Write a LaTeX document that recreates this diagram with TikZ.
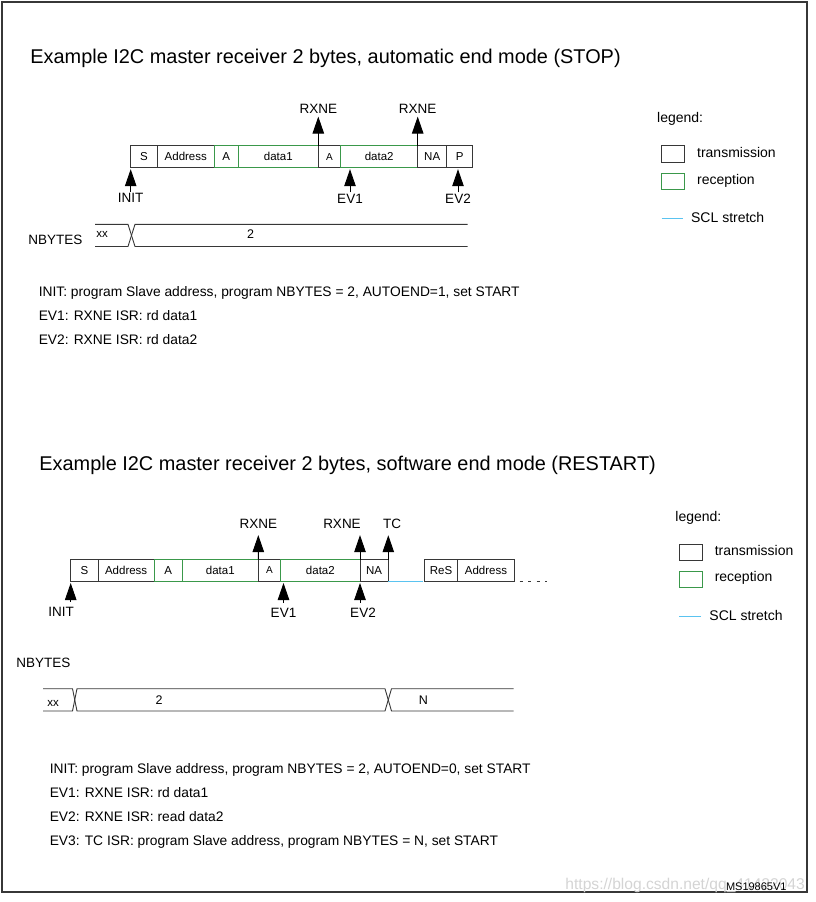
\documentclass[tikz,border=0pt]{standalone}
\usepackage{fontspec}
\setmainfont{Liberation Sans}
\usepackage{xcolor}
\usetikzlibrary{arrows.meta,positioning}
\definecolor{rxgreen}{RGB}{58,152,74}
\definecolor{sclblue}{RGB}{90,195,240}
\definecolor{linegray}{RGB}{55,55,55}
\definecolor{wmgray}{RGB}{212,212,212}
\tikzstyle{sendbox} = [rectangle, draw=linegray, minimum height=22pt, inner sep=0pt, outer sep=0pt, font=\fontsize{11.5}{13}\selectfont]
\tikzstyle{recvbox} = [sendbox, draw=rxgreen]
\tikzstyle{evlabel} = [inner sep=1pt, font=\fontsize{13.5}{15}\selectfont]
\tikzstyle{textline} = [anchor=base west, inner sep=0pt, font=\fontsize{13.8}{16}\selectfont]
\tikzstyle{titletext} = [anchor=base west, inner sep=0pt, font=\fontsize{19.9}{22}\selectfont]
\tikzstyle{legendbox} = [rectangle, draw=linegray, minimum width=22.6pt, minimum height=16.4pt, inner sep=0pt]
\tikzstyle{legendtext} = [anchor=west, inner sep=0pt, font=\fontsize{14}{16}\selectfont]
\tikzstyle{nbytes} = [anchor=west, inner sep=0pt, font=\fontsize{13.5}{15}\selectfont]
\tikzstyle{bustext} = [inner sep=0pt, font=\fontsize{12.5}{14}\selectfont]
\tikzstyle{busline} = [-, draw=linegray]

\begin{document}
\begin{tikzpicture}[->,>={Triangle[width=11.5pt,length=17pt]},shorten >=1.5pt,x=1pt,y=-1pt,line width=0.9pt]
  \useasboundingbox (0,0) rectangle (815,902);
  \draw[-, linegray, line width=1.2pt] (2,2) rectangle (807,892);

  % automatic end mode (STOP)
  \node[titletext] (Titel_stop) at (30,63.3) {Example I2C master receiver 2 bytes, automatic end mode (STOP)};
  \node[sendbox, minimum width=26.6pt, anchor=west] (S_stop) at (130.7,156.7) {S};
  \node[sendbox, minimum width=57pt] (Adresse_stop) [right=0pt of S_stop] {Address};
  \node[recvbox, minimum width=24pt] (A_stop) [right=0pt of Adresse_stop] {A};
  \node[recvbox, minimum width=80pt] (data_eins_stop) [right=0pt of A_stop] {data1};
  \node[sendbox, minimum width=22.4pt, font=\fontsize{10}{12}\selectfont] (Ack_stop) [right=0pt of data_eins_stop] {A};
  \node[recvbox, minimum width=77pt] (data_zwei_stop) [right=0pt of Ack_stop] {data2};
  \node[sendbox, minimum width=29pt] (NA_stop) [right=0pt of data_zwei_stop] {NA};
  \node[sendbox, minimum width=26pt] (P_stop) [right=0pt of NA_stop] {P};

  \node[evlabel] (RXNE_eins_stop) at (318.3,109) {RXNE};
  \node[evlabel] (RXNE_zwei_stop) at (417.7,109) {RXNE};
  \node[evlabel] (INIT_stop) at (130.7,198) {INIT};
  \node[evlabel] (EV1_stop) at (350,198.5) {EV1};
  \node[evlabel] (EV2_stop) at (458,198.5) {EV2};

  \draw (data_eins_stop.north east) -- (RXNE_eins_stop.south);
  \draw (data_zwei_stop.north east) -- (RXNE_zwei_stop.south);
  \draw (INIT_stop.north) -- (S_stop.south west);
  \draw (EV1_stop.north) -- (EV1_stop.north |- data_zwei_stop.south);
  \draw (EV2_stop.north) -- (EV2_stop.north |- P_stop.south);

  \node[nbytes] (NBYTES_stop) at (28,239.5) {NBYTES};
  \draw[busline] (95,224.3) -- (128,224.3) -- (135,246.5) -- (469,246.5);
  \draw[busline] (95,246.5) -- (128,246.5) -- (135,224.3) -- (469,224.3);
  \node[bustext, font=\fontsize{11.5}{12}\selectfont] (xx_stop) at (102,234) {xx};
  \node[bustext] (zwei_stop) at (250.7,234) {2};

  \node[textline] (init_text_stop) at (38.3,296.7) {INIT: program Slave address, program NBYTES = 2, AUTOEND=1, set START};
  \node[textline] (ev1_text_stop) at (38.3,320.7) {EV1: RXNE ISR: rd data1};
  \node[textline] (ev2_text_stop) at (38.3,344.7) {EV2: RXNE ISR: rd data2};

  \node[legendtext] (legende_stop) at (656.7,119) {legend:};
  \node[legendbox] (tx_stop) at (673,153.8) {};
  \node[legendtext] (tx_text_stop) at (696.7,152.3) {transmission};
  \node[legendbox, draw=rxgreen] (rx_stop) at (673,181.5) {};
  \node[legendtext] (rx_text_stop) at (696.7,181) {reception};
  \coordinate (scl_a_stop) at (661.7,218);
  \coordinate (scl_b_stop) at (684.3,218);
  \draw[-, sclblue] (scl_a_stop) -- (scl_b_stop);
  \node[legendtext] (scl_text_stop) at (690.7,217.2) {SCL stretch};

  % software end mode (RESTART)
  \node[titletext] (Titel_rs) at (39,470.7) {Example I2C master receiver 2 bytes, software end mode (RESTART)};
  \node[sendbox, minimum width=27.6pt, anchor=west] (S_rs) at (70.7,570.5) {S};
  \node[sendbox, minimum width=55.7pt] (Adresse_rs) [right=0pt of S_rs] {Address};
  \node[recvbox, minimum width=28.3pt] (A_rs) [right=0pt of Adresse_rs] {A};
  \node[recvbox, minimum width=76pt] (data_eins_rs) [right=0pt of A_rs] {data1};
  \node[sendbox, minimum width=22.4pt, font=\fontsize{10}{12}\selectfont] (Ack_rs) [right=0pt of data_eins_rs] {A};
  \node[recvbox, minimum width=79.3pt] (data_zwei_rs) [right=0pt of Ack_rs] {data2};
  \node[sendbox, minimum width=28.3pt] (NA_rs) [right=0pt of data_zwei_rs] {NA};
  \node[sendbox, minimum width=33.4pt] (ReS_rs) [right=36pt of NA_rs] {ReS};
  \node[sendbox, minimum width=56.6pt] (Adresse_zwei_rs) [right=0pt of ReS_rs] {Address};
  \draw[-, sclblue] (NA_rs.south east) -- (ReS_rs.south west);
  \draw[-, linegray, dash pattern=on 3pt off 5.5pt] (519.5,581.7) -- (548,581.7);

  \node[evlabel] (RXNE_eins_rs) at (258.3,524) {RXNE};
  \node[evlabel] (RXNE_zwei_rs) at (342,524) {RXNE};
  \node[evlabel] (TC_rs) at (392,524) {TC};
  \node[evlabel] (INIT_rs) at (61,611.7) {INIT};
  \node[evlabel] (EV1_rs) at (283.5,613.2) {EV1};
  \node[evlabel] (EV2_rs) at (363,613.2) {EV2};

  \draw[shorten >=5pt] (data_eins_rs.north east) -- (RXNE_eins_rs.south);
  \draw[shorten >=5pt] (data_zwei_rs.north east) -- (data_zwei_rs.north east |- RXNE_zwei_rs.south);
  \draw[shorten >=5pt] (NA_rs.north east) -- (NA_rs.north east |- TC_rs.south);
  \draw[shorten <=4pt] (S_rs.south west |- INIT_rs.north) -- (S_rs.south west);
  \draw[shorten <=4pt] (EV1_rs.north) -- (EV1_rs.north |- data_zwei_rs.south);
  \draw[shorten <=4pt] (data_zwei_rs.south east |- EV2_rs.north) -- (data_zwei_rs.south east);

  \node[nbytes] (NBYTES_rs) at (16,662.5) {NBYTES};
  \draw[busline] (43,688.7) -- (72.5,688.7) -- (77,711) -- (385,711) -- (391.5,688.7) -- (515,688.7);
  \draw[busline] (43,711) -- (72.5,711) -- (77,688.7) -- (385,688.7) -- (391.5,711) -- (515,711);
  \node[bustext, font=\fontsize{11.5}{12}\selectfont] (xx_rs) at (53,703) {xx};
  \node[bustext] (zwei_rs) at (159,700.5) {2};
  \node[bustext] (N_rs) at (423.3,700.5) {N};

  \node[textline] (init_text_rs) at (49.3,773.3) {INIT: program Slave address, program NBYTES = 2, AUTOEND=0, set START};
  \node[textline] (ev1_text_rs) at (49.3,797.3) {EV1: RXNE ISR: rd data1};
  \node[textline] (ev2_text_rs) at (49.3,821.3) {EV2: RXNE ISR: read data2};
  \node[textline] (ev3_text_rs) at (49.3,845.3) {EV3: TC ISR: program Slave address, program NBYTES = N, set START};

  \node[legendtext] (legende_rs) at (675,517.5) {legend:};
  \node[legendbox] (tx_rs) at (691,552.5) {};
  \node[legendtext] (tx_text_rs) at (714.3,550) {transmission};
  \node[legendbox, draw=rxgreen] (rx_rs) at (691,579.7) {};
  \node[legendtext] (rx_text_rs) at (714.3,578.3) {reception};
  \coordinate (scl_a_rs) at (679.3,616.7);
  \coordinate (scl_b_rs) at (702.7,616.7);
  \draw[-, sclblue] (scl_a_rs) -- (scl_b_rs);
  \node[legendtext] (scl_text_rs) at (709,615.3) {SCL stretch};

  \node[anchor=base west, inner sep=0pt, text=wmgray, font=\fontsize{15.6}{17}\selectfont] (wasserzeichen) at (565,889.5) {https://blog.csdn.net/qq\_41422043};
  \node[anchor=base east, inner sep=0pt, font=\fontsize{11}{12}\selectfont] (MS) at (787,890) {MS19865V1};
\end{tikzpicture}
\end{document}
